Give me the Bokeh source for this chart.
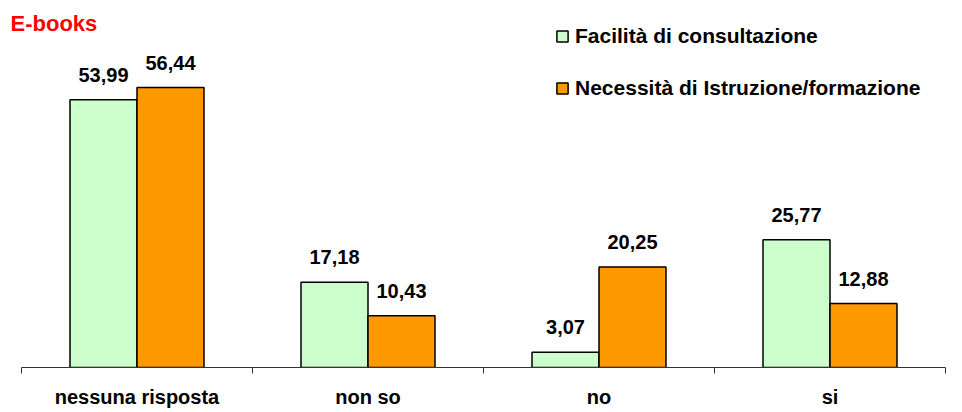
from bokeh.plotting import figure
from bokeh.models import Range1d, FixedTicker, Legend, LegendItem, Label, ColumnDataSource
from bokeh.transform import dodge
from bokeh.core.properties import value
from bokeh.embed import file_html
from bokeh.resources import INLINE

# ---- data ----
categories = ["nessuna risposta", "non so", "no", "si"]
facilita = [53.99, 17.18, 3.07, 25.77]
necessita = [56.44, 10.43, 20.25, 12.88]
series_names = ["Facilità di consultazione", "Necessità di Istruzione/formazione"]
chart_title = "E-books"

FONT = "Liberation Sans"
GREEN = "#CCFFCC"
ORANGE = "#FF9900"

n = len(categories)
x = [i + 0.5 for i in range(n)]
fmt = lambda v: f"{v:.2f}".replace(".", ",")
src = ColumnDataSource(dict(
    x=x, facilita=facilita, necessita=necessita,
    lab_f=[fmt(v) for v in facilita], lab_n=[fmt(v) for v in necessita],
))

W, H = 960, 411
PX_PER_CAT = 231.0
LEFT_PAD = 21.0
PX_PER_UNIT = 4.96
BOTTOM = 44
x_start = -LEFT_PAD / PX_PER_CAT
x_end = x_start + W / PX_PER_CAT

p = figure(width=W, height=H, x_range=Range1d(x_start, x_end),
           y_range=Range1d(0, (H - BOTTOM) / PX_PER_UNIT),
           output_backend="svg", toolbar_location=None,
           y_axis_location=None, min_border_left=0, min_border_right=0,
           min_border_top=0, min_border_bottom=BOTTOM)
p.outline_line_color = None
p.xgrid.visible = False
p.ygrid.visible = False
p.background_fill_color = "white"
p.border_fill_color = "white"

ax = p.xaxis[0]
ax.bounds = (0, n)
ax.ticker = FixedTicker(ticks=x, minor_ticks=list(range(n + 1)))
ax.major_label_overrides = {float(xi): c for xi, c in zip(x, categories)}
ax.major_tick_out = 0
ax.major_tick_in = 0
ax.minor_tick_out = 6
ax.minor_tick_in = 0
ax.axis_line_color = "#333333"
ax.minor_tick_line_color = "#333333"
ax.major_label_standoff = 12
ax.major_label_text_font = FONT
ax.major_label_text_font_style = "bold"
ax.major_label_text_font_size = "20px"
ax.major_label_text_color = "black"

w = 0.29
r1 = p.vbar(x=dodge("x", -w / 2), top="facilita", width=w, source=src,
            fill_color=GREEN, line_color="black", line_width=1.5)
r2 = p.vbar(x=dodge("x", w / 2), top="necessita", width=w, source=src,
            fill_color=ORANGE, line_color="black", line_width=1.5)

for col, lab, off in (("facilita", "lab_f", -w / 2), ("necessita", "lab_n", w / 2)):
    p.text(x=dodge("x", off), y=col, text=lab, source=src, text_align="center",
           text_baseline="alphabetic", y_offset=-25, text_font=value(FONT),
           text_font_style="bold", text_font_size="20px", text_color="black")

legend = Legend(items=[LegendItem(label=series_names[0], renderers=[r1]),
                       LegendItem(label=series_names[1], renderers=[r2])],
                location=(555, 267), glyph_width=14, glyph_height=14,
                label_standoff=6, label_height=20, spacing=28, padding=0, margin=0,
                border_line_color=None, background_fill_alpha=0,
                label_text_font=FONT, label_text_font_style="bold",
                label_text_font_size="21px", label_text_color="black")
p.add_layout(legend)

title = Label(x=10, y=344, x_units="screen", y_units="screen", text=chart_title,
              text_font=FONT, text_font_style="bold", text_font_size="22px",
              text_color="#FF0000", text_baseline="alphabetic")
p.add_layout(title)

open("out.html", "w").write(file_html(p, INLINE))
